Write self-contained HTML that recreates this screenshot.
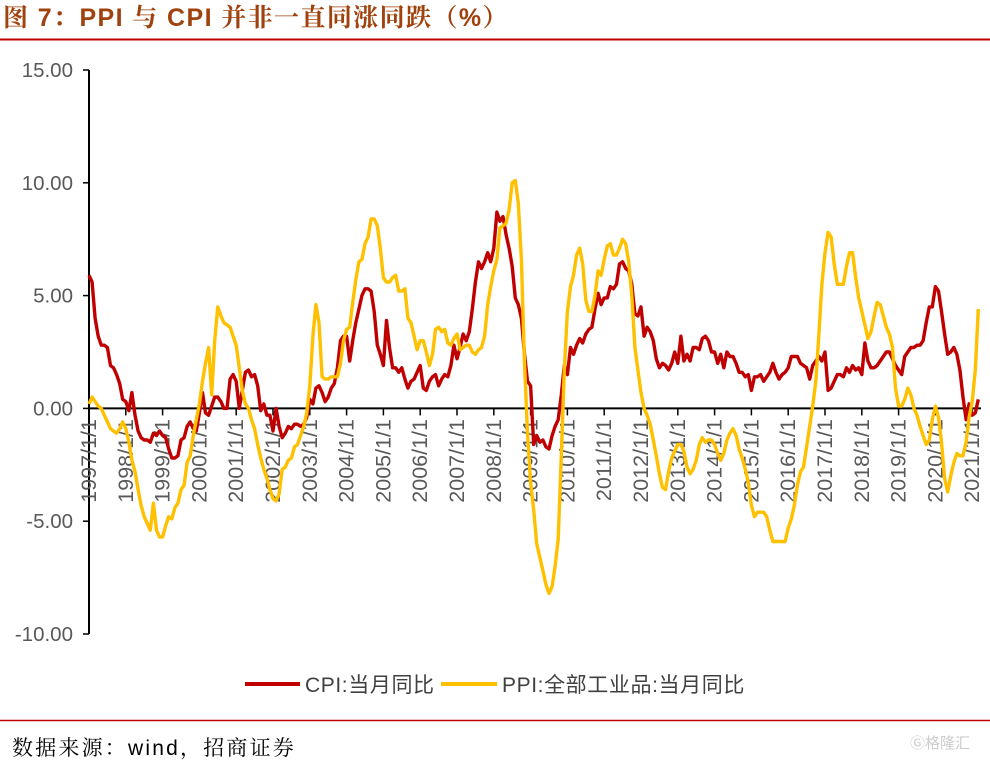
<!DOCTYPE html>
<html><head><meta charset="utf-8"><style>
body{margin:0;background:#fff;width:990px;height:761px;overflow:hidden;font-family:"Liberation Sans","Noto Sans CJK SC",sans-serif}
</style></head><body>
<svg id="s" width="990" height="761" xmlns="http://www.w3.org/2000/svg">
<text x="3" y="26" font-size="25" font-weight="bold" fill="#A0420E" font-family="Liberation Sans,Noto Serif CJK SC,serif" letter-spacing="1.4">图 7：PPI 与 CPI 并非一直同涨同跌（%）</text>
<line x1="0" y1="39.5" x2="990" y2="39.5" stroke="#C00000" stroke-width="2"/>
<line x1="0" y1="720.5" x2="990" y2="720.5" stroke="#C00000" stroke-width="1.5"/>
<text x="12" y="755" font-size="21" fill="#000" font-family="Liberation Sans,Noto Serif CJK SC,serif" letter-spacing="2.2">数据来源：wind，招商证券</text>
<text x="910" y="748" font-size="15" fill="#ccc" font-family="Noto Sans CJK SC,sans-serif">Ⓖ格隆汇</text>
<g id="ax"></g>
<g font-size="21" fill="#404040" font-family="Liberation Sans,Noto Sans CJK SC,sans-serif" letter-spacing="0.6">
<line x1="245" y1="684" x2="300" y2="684" stroke="#C00000" stroke-width="4"/>
<text x="305" y="692">CPI:当月同比</text>
<line x1="441" y1="684" x2="497" y2="684" stroke="#FFC000" stroke-width="4"/>
<text x="502" y="692">PPI:全部工业品:当月同比</text>
</g>
</svg>
<script>
var cpi=[5.9,5.6,4.0,3.2,2.8,2.8,2.7,1.9,1.8,1.5,1.1,0.4,
0.3,-0.1,0.7,-0.3,-1.0,-1.3,-1.4,-1.4,-1.5,-1.1,-1.2,-1.0,
-1.2,-1.3,-1.8,-2.2,-2.2,-2.1,-1.4,-1.3,-0.8,-0.6,-0.9,-1.0,
-0.2,0.7,-0.2,-0.3,0.1,0.5,0.5,0.3,0.0,0.0,1.3,1.5,
1.2,0.0,0.8,1.6,1.7,1.4,1.5,1.0,-0.1,0.2,-0.3,-0.3,
-1.0,0.0,-0.8,-1.3,-1.1,-0.8,-0.9,-0.7,-0.7,-0.8,-0.7,-0.4,
0.4,0.2,0.9,1.0,0.7,0.3,0.5,0.9,1.1,1.8,3.0,3.2,
3.2,2.1,3.0,3.8,4.4,5.0,5.3,5.3,5.2,4.3,2.8,2.4,
1.9,3.9,2.7,1.8,1.8,1.6,1.8,1.3,0.9,1.2,1.3,1.6,
1.9,0.9,0.8,1.2,1.4,1.5,1.0,1.3,1.5,1.4,1.9,2.8,
2.2,2.7,3.3,3.0,3.4,4.4,5.6,6.5,6.2,6.5,6.9,6.5,
7.1,8.7,8.3,8.5,7.7,7.1,6.3,4.9,4.6,4.0,2.4,1.2,
1.0,-1.6,-1.2,-1.5,-1.4,-1.7,-1.8,-1.2,-0.8,-0.5,0.6,1.9,
1.5,2.7,2.4,2.8,3.1,2.9,3.3,3.5,3.6,4.4,5.1,4.6,
4.9,4.9,5.4,5.3,5.5,6.4,6.5,6.2,6.1,5.5,4.2,4.1,
4.5,3.2,3.6,3.4,3.0,2.2,1.8,2.0,1.9,1.7,2.0,2.5,
2.0,3.2,2.1,2.4,2.1,2.7,2.7,2.6,3.1,3.2,3.0,2.5,
2.5,2.0,2.4,1.8,2.5,2.3,2.3,2.0,1.6,1.6,1.4,1.5,
0.8,1.4,1.4,1.5,1.2,1.4,1.6,2.0,1.6,1.3,1.5,1.6,
1.8,2.3,2.3,2.3,2.0,1.9,1.8,1.3,1.9,2.1,2.3,2.1,
2.5,0.8,0.9,1.2,1.5,1.5,1.4,1.8,1.6,1.9,1.7,1.8,
1.5,2.9,2.1,1.8,1.8,1.9,2.1,2.3,2.5,2.5,2.2,1.9,
1.7,1.5,2.3,2.5,2.7,2.7,2.8,2.8,3.0,3.8,4.5,4.5,
5.4,5.2,4.3,3.3,2.4,2.5,2.7,2.4,1.7,0.5,-0.5,0.2,
-0.3,-0.2,0.4];
var ppi=[0.2,0.5,0.3,0.1,0.0,-0.3,-0.6,-0.9,-1.0,-1.1,-0.9,-0.6,
-0.9,-1.5,-2.3,-2.8,-3.6,-4.3,-4.8,-5.1,-5.4,-4.2,-5.4,-5.7,
-5.7,-5.2,-4.8,-4.9,-4.4,-4.2,-3.6,-3.4,-2.4,-2.1,-1.2,-0.5,
0.2,1.2,2.0,2.7,0.6,3.0,4.5,4.1,3.8,3.7,3.6,3.2,
2.8,1.8,0.8,0.2,0.0,-0.5,-0.9,-1.6,-2.2,-2.7,-3.1,-3.6,
-4.0,-4.1,-3.8,-2.7,-2.6,-2.3,-2.2,-1.7,-1.6,-1.2,-0.8,-0.2,
1.0,3.2,4.6,3.8,1.4,1.3,1.3,1.4,1.4,1.4,2.0,3.0,
3.5,3.6,4.7,5.7,6.5,6.6,7.3,7.6,8.4,8.4,8.1,7.1,
5.8,5.6,5.6,5.8,5.9,5.2,5.2,5.3,4.0,3.8,3.2,2.6,
3.0,3.0,2.5,1.9,2.4,3.5,3.6,3.4,3.5,2.9,2.8,3.1,
3.3,2.6,2.7,2.8,2.8,2.5,2.4,2.6,2.7,3.2,4.6,5.4,
6.1,6.6,8.0,8.1,8.2,8.8,10.0,10.1,9.1,6.6,2.0,-1.1,
-3.3,-4.5,-6.0,-6.6,-7.2,-7.8,-8.2,-7.9,-7.0,-5.8,-2.1,1.7,
4.3,5.4,5.9,6.8,7.1,6.4,4.8,4.3,4.3,5.0,6.1,5.9,
6.6,7.2,7.3,6.8,6.8,7.1,7.5,7.3,6.5,5.0,2.7,1.7,
0.7,0.0,-0.3,-0.7,-1.4,-2.1,-2.9,-3.5,-3.6,-2.8,-2.2,-1.9,
-1.6,-1.6,-1.9,-2.6,-2.9,-2.7,-2.3,-1.6,-1.3,-1.5,-1.4,-1.4,
-1.6,-2.0,-2.3,-2.0,-1.4,-1.1,-0.9,-1.2,-1.8,-2.2,-2.7,-3.3,
-4.3,-4.8,-4.6,-4.6,-4.6,-4.8,-5.4,-5.9,-5.9,-5.9,-5.9,-5.9,
-5.3,-4.9,-4.3,-3.4,-2.8,-2.6,-1.7,-0.8,0.1,1.2,3.3,5.5,
6.9,7.8,7.6,6.4,5.5,5.5,5.5,6.3,6.9,6.9,5.8,4.9,
4.3,3.7,3.1,3.4,4.1,4.7,4.6,4.1,3.6,3.3,2.7,0.9,
0.1,0.1,0.4,0.9,0.6,0.0,-0.3,-0.8,-1.2,-1.6,-1.4,-0.5,
0.1,-0.4,-1.5,-3.1,-3.7,-3.0,-2.4,-2.0,-2.1,-2.1,-1.5,-0.4,
0.3,1.7,4.4];
var X0=89,MX=36.8/12,Y0=408.4,K=22.56,h='';
h+='<line x1="'+X0+'" y1="70" x2="'+X0+'" y2="634" stroke="#000" stroke-width="2"/>';
for(var v=15;v>=-10;v-=5){var y=Y0-v*K;h+='<line x1="83" y1="'+y+'" x2="'+X0+'" y2="'+y+'" stroke="#000" stroke-width="1.5"/>';
h+='<text x="73" y="'+(y+7)+'" font-size="20.5" fill="#595959" text-anchor="end">'+v.toFixed(2)+'</text>';}
h+='<line x1="'+X0+'" y1="'+Y0+'" x2="981" y2="'+Y0+'" stroke="#000" stroke-width="2"/>';
for(var i=0;i<=24;i++){var x=X0+i*36.8;if(i>0)h+='<line x1="'+x+'" y1="'+Y0+'" x2="'+x+'" y2="'+(Y0+7)+'" stroke="#000" stroke-width="1.5"/>';
h+='<text transform="translate('+(x+7)+',419) rotate(-90)" font-size="21.5" fill="#595959" text-anchor="end">'+(1997+i)+'/1/1</text>';}
function pl(a,c){var p=a.map(function(v,i){return (X0+i*MX).toFixed(1)+','+(Y0-v*K).toFixed(1)}).join(' ');
return '<polyline points="'+p+'" fill="none" stroke="'+c+'" stroke-width="3.4" stroke-linejoin="round"/>';}
h+=pl(cpi,'#C00000')+pl(ppi,'#FFC000');
var g=document.getElementById('ax');g.setAttribute('font-family','Liberation Sans,sans-serif');g.innerHTML=h;
</script>
</body></html>
